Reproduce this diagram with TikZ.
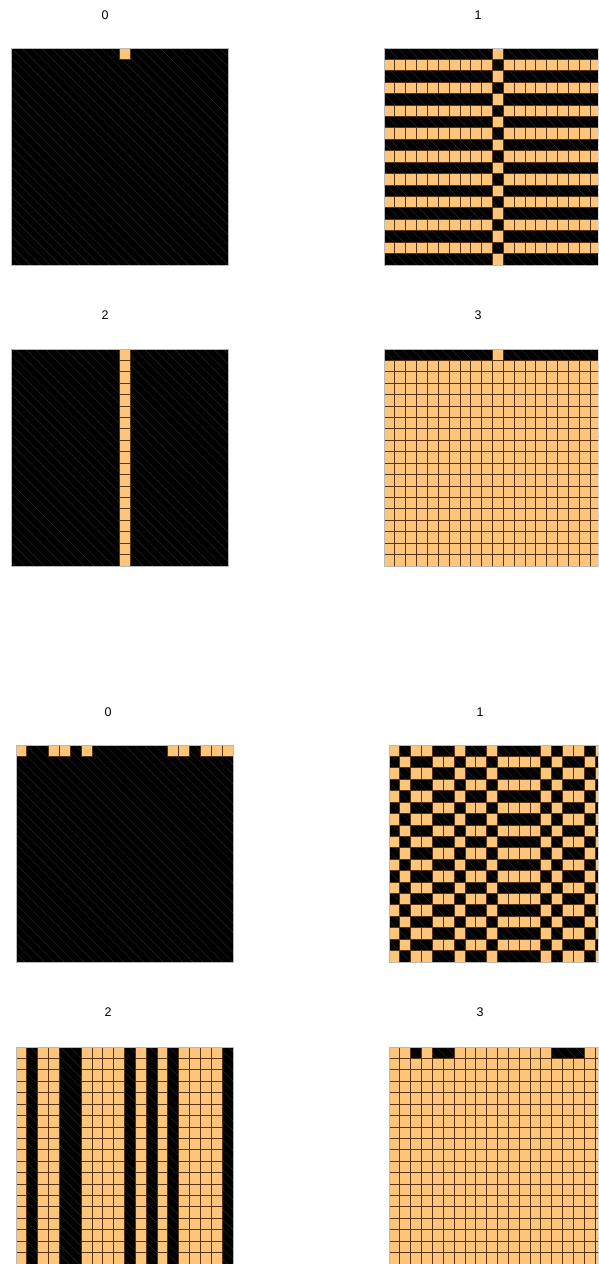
\documentclass[tikz,border=0pt]{standalone}
\usepackage{fontspec}
\setmainfont{Liberation Sans}
\usetikzlibrary{patterns.meta}
\definecolor{cellorange}{RGB}{253,197,122}
\definecolor{celledge}{RGB}{88,50,20}
\definecolor{hatchgray}{RGB}{40,40,40}
\newcommand{\cw}{10.85}
\newcommand{\ch}{11.42}

\begin{document}
\begin{tikzpicture}[
  x=1pt, y=-1pt,
  font=\fontsize{12.5}{14}\selectfont,
  panel/.style={fill=black, postaction={pattern={Lines[angle=-45,distance=7pt,line width=0.45pt]}, pattern color=hatchgray}},
  frame/.style={draw=gray!55, line width=0.6pt},
  cell/.style={fill=cellorange, draw=celledge, line width=0.9pt},
  title/.style={inner sep=0pt}
]

% Page.
\fill[white] (0,0) rectangle (598,1264);
\useasboundingbox (0,0) rectangle (598,1264);
\clip (0,0) rectangle (598,1264);

% Titles.
\node[title] (upzero)  at (105,15)   {0};
\node[title] (upone)   at (478,15)   {1};
\node[title] (uptwo)   at (105,315)  {2};
\node[title] (upthree) at (478,315)  {3};
\node[title] (lowzero)  at (108,712)  {0};
\node[title] (lowone)   at (480,712)  {1};
\node[title] (lowtwo)   at (108,1012) {2};
\node[title] (lowthree) at (480,1012) {3};

% Upper set, map 0.
\begin{scope}[shift={(11,48)}]
  \fill[panel] (0,0) rectangle (217,217);
  \draw[cell] ({10*\cw},0) rectangle ++(\cw,\ch);
  \draw[frame] (0,0) rectangle (217,217);
\end{scope}

% Upper set, map 1.
\begin{scope}[shift={(384,48)}]
  \fill[panel] (0,0) rectangle (217,217);
  \foreach \r in {0,2,...,18}
    \draw[cell] ({10*\cw},{\r*\ch}) rectangle ++(\cw,\ch);
  \foreach \r in {1,3,...,17}
    \foreach \c in {0,...,19} {
      \ifnum\c=10 \else
        \draw[cell] ({\c*\cw},{\r*\ch}) rectangle ++(\cw,\ch);
      \fi
    }
  \draw[frame] (0,0) rectangle (217,217);
\end{scope}

% Upper set, map 2.
\begin{scope}[shift={(11,349)}]
  \fill[panel] (0,0) rectangle (217,217);
  \foreach \r in {0,...,18}
    \draw[cell] ({10*\cw},{\r*\ch}) rectangle ++(\cw,\ch);
  \draw[frame] (0,0) rectangle (217,217);
\end{scope}

% Upper set, map 3.
\begin{scope}[shift={(384,349)}]
  \fill[panel] (0,0) rectangle (217,217);
  \draw[cell] ({10*\cw},0) rectangle ++(\cw,\ch);
  \foreach \r in {1,...,18}
    \foreach \c in {0,...,19}
      \draw[cell] ({\c*\cw},{\r*\ch}) rectangle ++(\cw,\ch);
  \draw[frame] (0,0) rectangle (217,217);
\end{scope}

% Lower set, map 0.
\begin{scope}[shift={(16,745)}]
  \fill[panel] (0,0) rectangle (217,217);
  \foreach \c in {0,3,4,6,14,15,17,18,19}
    \draw[cell] ({\c*\cw},0) rectangle ++(\cw,\ch);
  \draw[frame] (0,0) rectangle (217,217);
\end{scope}

% Lower set, map 1.
\begin{scope}[shift={(389,745)}]
  \fill[panel] (0,0) rectangle (217,217);
  \foreach \r in {0,2,...,18}
    \foreach \c in {0,2,3,6,9,14,16,17,19}
      \draw[cell] ({\c*\cw},{\r*\ch}) rectangle ++(\cw,\ch);
  \foreach \r in {1,3,...,17}
    \foreach \c in {1,4,5,7,8,10,11,12,13,15,18}
      \draw[cell] ({\c*\cw},{\r*\ch}) rectangle ++(\cw,\ch);
  \draw[frame] (0,0) rectangle (217,217);
\end{scope}

% Lower set, map 2.
\begin{scope}[shift={(16,1047)}]
  \fill[panel] (0,0) rectangle (217,217);
  \foreach \r in {0,...,18}
    \foreach \c in {0,2,3,6,7,8,9,11,13,15,16,17,18}
      \draw[cell] ({\c*\cw},{\r*\ch}) rectangle ++(\cw,\ch);
  \draw[frame] (0,0) rectangle (217,217);
\end{scope}

% Lower set, map 3.
\begin{scope}[shift={(389,1047)}]
  \fill[panel] (0,0) rectangle (217,217);
  \foreach \c in {0,1,3,6,7,8,9,10,11,12,13,14,18,19}
    \draw[cell] ({\c*\cw},0) rectangle ++(\cw,\ch);
  \foreach \r in {1,...,18}
    \foreach \c in {0,...,19}
      \draw[cell] ({\c*\cw},{\r*\ch}) rectangle ++(\cw,\ch);
  \draw[frame] (0,0) rectangle (217,217);
\end{scope}

\end{tikzpicture}
\end{document}
